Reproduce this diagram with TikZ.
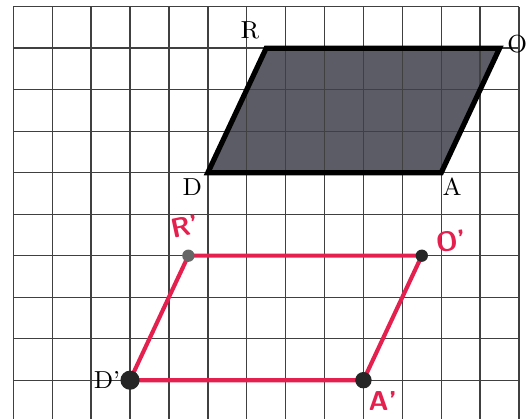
\documentclass[tikz,border=0pt]{standalone}
\usepackage{tikz}
\usetikzlibrary{positioning, calc}
\definecolor{penred}{RGB}{228,32,78}
\definecolor{darkfill}{RGB}{92,92,102}

\begin{document}
\begin{tikzpicture}[
    x=0.5cm, y=0.5334cm,
    gridline/.style={draw=black!75, line width=0.5pt},
    outline/.style={draw=black, line width=1.9pt, line join=miter},
    imgline/.style={draw=penred, line width=1.5pt},
    lbl/.style={font=\small, inner sep=0pt},
    hand/.style={font=\sffamily\bfseries, text=penred, inner sep=0pt},
    vdot/.style={circle, fill=black!85, inner sep=0pt}
]
    \useasboundingbox (-0.342,0.161) rectangle (13.23,-9.935);

    % parallelogram DAOR
    \coordinate (D) at (5,-4);
    \coordinate (A) at (11,-4);
    \coordinate (O) at (12.5,-1);
    \coordinate (R) at (6.5,-1);
    \fill[fill=darkfill] (D) -- (A) -- (O) -- (R) -- cycle;

    % grid
    \foreach \k in {0,...,13}
        \draw[gridline] (\k,0) -- (\k,-9.935);
    \foreach \j in {0,...,9}
        \draw[gridline] (0,-\j) -- (13,-\j);

    \draw[outline] (D) -- (A) -- (O) -- (R) -- cycle;

    \node[lbl] (labR) at (6.08,-0.56) {R};
    \node[lbl] (labO) at (12.95,-0.9) {O};
    \node[lbl] (labD) at (4.6,-4.34) {D};
    \node[lbl] (labA) at (11.28,-4.34) {A};

    % image D'A'O'R'
    \coordinate (D') at (3,-9);
    \coordinate (A') at (9,-9);
    \coordinate (O') at (10.5,-6);
    \coordinate (R') at (4.5,-6);
    \draw[imgline] (D') -- (A') -- (O') -- (R') -- cycle;

    \node[vdot, minimum size=7pt] (dD) at (D') {};
    \node[vdot, minimum size=6pt] (dA) at (A') {};
    \node[vdot, minimum size=4.5pt] (dO) at (O') {};
    \node[vdot, minimum size=4.5pt, fill=black!60] (dR) at (R') {};

    \node[lbl] (labD') at (2.41,-9) {D'};
    \node[hand, rotate=12] (labR') at (4.42,-5.3) {R'};
    \node[hand, rotate=8] (labO') at (11.25,-5.65) {O'};
    \node[hand] (labA') at (9.5,-9.5) {A'};
\end{tikzpicture}
\end{document}
